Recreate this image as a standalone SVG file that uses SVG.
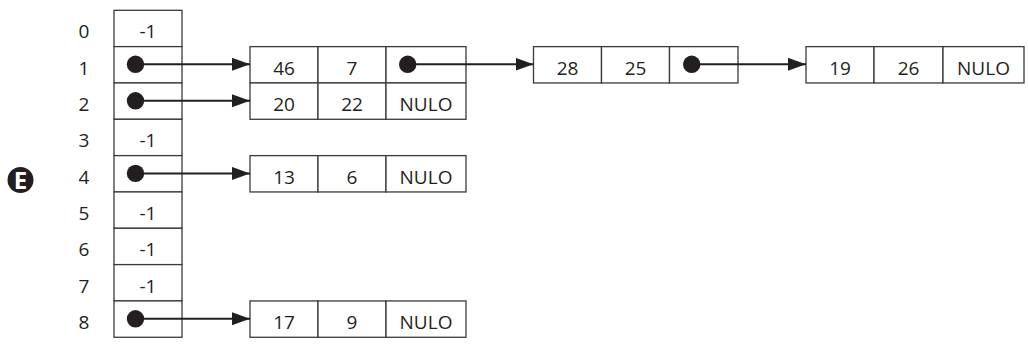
<svg xmlns="http://www.w3.org/2000/svg" width="1028" height="344" viewBox="0 0 1028 344">
  <style>
    .cell { fill: #fff; stroke: #3a3a3a; stroke-width: 1.3; }
    .t { font-family: "Open Sans", "Noto Sans", sans-serif; font-size: 19px; fill: #231f20; text-anchor: middle; }
    .link { stroke: #231f20; stroke-width: 2; fill: none; marker-end: url(#head); }
    .dot { fill: #231f20; }
  </style>
  <defs>
    <marker id="head" markerUnits="userSpaceOnUse" markerWidth="19" markerHeight="14" refX="18" refY="6.5" orient="auto">
      <path d="M0,0 L18,6.5 L0,13 Z" fill="#231f20"/>
    </marker>
  </defs>

  <rect width="1028" height="344" fill="#fff"/>

  <!-- circled step letter -->
  <g id="badge">
    <circle cx="20.5" cy="180" r="13" fill="#231f20"/>
    <text x="20.5" y="188.5" font-family="'Open Sans', 'DejaVu Sans', sans-serif" font-weight="bold" font-size="24" fill="#fff" text-anchor="middle">E</text>
  </g>

  <!-- index labels -->
  <g id="indices" class="t">
    <text x="84" y="38.2">0</text>
    <text x="84" y="74.5">1</text>
    <text x="84" y="110.9">2</text>
    <text x="84" y="147.2">3</text>
    <text x="84" y="183.5">4</text>
    <text x="84" y="219.9">5</text>
    <text x="84" y="256.2">6</text>
    <text x="84" y="292.5">7</text>
    <text x="84" y="328.9">8</text>
  </g>

  <!-- hash table column -->
  <g id="table">
    <rect class="cell" x="114" y="10.3" width="68" height="36.33"/>
    <rect class="cell" x="114" y="46.63" width="68" height="36.33"/>
    <rect class="cell" x="114" y="82.96" width="68" height="36.33"/>
    <rect class="cell" x="114" y="119.29" width="68" height="36.33"/>
    <rect class="cell" x="114" y="155.62" width="68" height="36.33"/>
    <rect class="cell" x="114" y="191.95" width="68" height="36.33"/>
    <rect class="cell" x="114" y="228.28" width="68" height="36.33"/>
    <rect class="cell" x="114" y="264.61" width="68" height="36.33"/>
    <rect class="cell" x="114" y="300.94" width="68" height="36.33"/>
    <g class="t">
      <text x="148" y="38.2">-1</text>
      <text x="148" y="147.2">-1</text>
      <text x="148" y="219.9">-1</text>
      <text x="148" y="256.2">-1</text>
      <text x="148" y="292.5">-1</text>
    </g>
  </g>

  <!-- list node 46 | 7 | next -->
  <g id="node-46">
    <rect class="cell" x="250" y="46.63" width="68" height="36.33"/>
    <rect class="cell" x="318" y="46.63" width="68" height="36.33"/>
    <rect class="cell" x="386" y="46.63" width="80" height="36.33"/>
    <text class="t" x="284" y="74.5">46</text>
    <text class="t" x="352" y="74.5">7</text>
  </g>

  <!-- list node 28 | 25 | next -->
  <g id="node-28">
    <rect class="cell" x="533.5" y="46.63" width="68" height="36.33"/>
    <rect class="cell" x="601.5" y="46.63" width="68" height="36.33"/>
    <rect class="cell" x="669.5" y="46.63" width="68.5" height="36.33"/>
    <text class="t" x="567.5" y="74.5">28</text>
    <text class="t" x="635.5" y="74.5">25</text>
  </g>

  <!-- list node 19 | 26 | NULO -->
  <g id="node-19">
    <rect class="cell" x="806" y="46.63" width="68" height="36.33"/>
    <rect class="cell" x="874" y="46.63" width="69" height="36.33"/>
    <rect class="cell" x="943" y="46.63" width="81" height="36.33"/>
    <text class="t" x="840" y="74.5">19</text>
    <text class="t" x="908.5" y="74.5">26</text>
    <text class="t" x="983.5" y="74.5">NULO</text>
  </g>

  <!-- list node 20 | 22 | NULO -->
  <g id="node-20">
    <rect class="cell" x="250" y="82.96" width="68" height="36.33"/>
    <rect class="cell" x="318" y="82.96" width="68" height="36.33"/>
    <rect class="cell" x="386" y="82.96" width="80" height="36.33"/>
    <text class="t" x="284" y="110.9">20</text>
    <text class="t" x="352" y="110.9">22</text>
    <text class="t" x="426" y="110.9">NULO</text>
  </g>

  <!-- list node 13 | 6 | NULO -->
  <g id="node-13">
    <rect class="cell" x="250" y="155.62" width="68" height="36.33"/>
    <rect class="cell" x="318" y="155.62" width="68" height="36.33"/>
    <rect class="cell" x="386" y="155.62" width="80" height="36.33"/>
    <text class="t" x="284" y="183.5">13</text>
    <text class="t" x="352" y="183.5">6</text>
    <text class="t" x="426" y="183.5">NULO</text>
  </g>

  <!-- list node 17 | 9 | NULO -->
  <g id="node-17">
    <rect class="cell" x="250" y="300.94" width="68" height="36.33"/>
    <rect class="cell" x="318" y="300.94" width="68" height="36.33"/>
    <rect class="cell" x="386" y="300.94" width="80" height="36.33"/>
    <text class="t" x="284" y="328.9">17</text>
    <text class="t" x="352" y="328.9">9</text>
    <text class="t" x="426" y="328.9">NULO</text>
  </g>

  <!-- pointers -->
  <g id="connectors">
    <circle class="dot" cx="135.5" cy="64.3" r="8.7"/>
    <path class="link" d="M135.5,64.3 H250"/>
    <circle class="dot" cx="135.5" cy="100.8" r="8.7"/>
    <path class="link" d="M135.5,100.8 H250"/>
    <circle class="dot" cx="135.5" cy="173.4" r="8.7"/>
    <path class="link" d="M135.5,173.4 H250"/>
    <circle class="dot" cx="135.5" cy="318.8" r="8.7"/>
    <path class="link" d="M135.5,318.8 H250"/>
    <circle class="dot" cx="407.7" cy="64.3" r="8.7"/>
    <path class="link" d="M407.7,64.3 H533.5"/>
    <circle class="dot" cx="691.7" cy="64.3" r="8.7"/>
    <path class="link" d="M691.7,64.3 H806"/>
  </g>
</svg>
